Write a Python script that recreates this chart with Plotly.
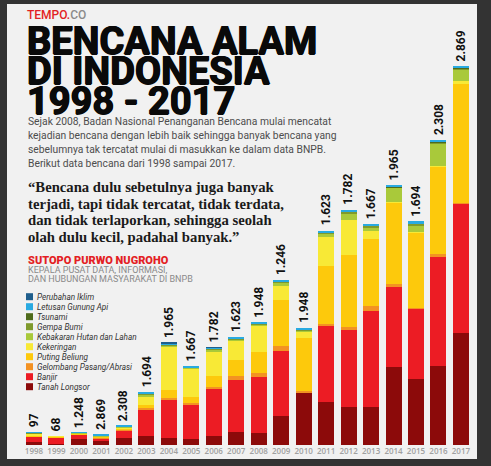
import plotly.graph_objects as go

years = [str(y) for y in range(1998, 2018)]
value_labels = ["97", "68", "1.248", "2.869", "2.308", "1.694", "1.965", "1.667", "1.782", "1.623",
                "1.948", "1.246", "1.948", "1.623", "1.782", "1.667", "1.965", "1.694", "2.308", "2.869"]

tanah_longsor = [20, 8, 45, 28, 50, 71, 50, 45, 71, 101, 88, 222, 399, 323, 285, 290, 593, 497, 598, 846]
banjir = [43, 45, 38, 21, 61, 194, 298, 265, 358, 391, 429, 489, 0, 578, 585, 724, 603, 535, 826, 979]
gelombang = [4, 2, 0, 4, 5, 13, 5, 5, 8, 30, 30, 38, 10, 15, 25, 38, 20, 8, 25, 10]
puting_beliung = [8, 8, 3, 8, 10, 25, 63, 45, 86, 121, 159, 348, 404, 439, 543, 506, 618, 568, 656, 899]
kekeringan = [10, 5, 3, 6, 10, 63, 328, 220, 184, 151, 197, 106, 45, 222, 265, 63, 5, 8, 5, 18]
kebakaran = [5, 0, 2, 4, 3, 18, 10, 5, 13, 8, 10, 30, 8, 23, 53, 25, 108, 48, 172, 91]
gempa = [4, 0, 0, 3, 2, 8, 8, 0, 8, 5, 5, 8, 8, 10, 13, 13, 5, 15, 8, 8]
tsunami = [0, 0, 0, 0, 0, 0, 0, 0, 0, 0, 0, 0, 0, 0, 0, 0, 3, 0, 5, 5]
letusan = [3, 0, 2, 2, 3, 7, 8, 8, 8, 8, 8, 5, 15, 13, 13, 8, 10, 15, 13, 13]
perubahan_iklim = [0, 0, 0, 0, 0, 0, 4, 0, 4, 0, 0, 0, 0, 0, 0, 0, 0, 0, 0, 0]

series = [
    ("Tanah Longsor", tanah_longsor, "#8c0a0a"),
    ("Banjir", banjir, "#ec1c24"),
    ("Gelombang Pasang/Abrasi", gelombang, "#f39222"),
    ("Puting Beliung", puting_beliung, "#fdc90c"),
    ("Kekeringan", kekeringan, "#f8e936"),
    ("Kebakaran Hutan dan Lahan", kebakaran, "#a9c93a"),
    ("Gempa Bumi", gempa, "#7f9a2c"),
    ("Tsunami", tsunami, "#4e6b1b"),
    ("Letusan Gunung Api", letusan, "#29aae1"),
    ("Perubahan Iklim", perubahan_iklim, "#1f5e8c"),
]

W, H = 491, 466
scale = 2869 / 379.0
xs = list(range(len(years)))

fig = go.Figure()
for name, vals, col in series:
    fig.add_trace(go.Bar(x=xs, y=vals, name=name, marker=dict(color=col, line=dict(width=0)),
                         width=0.71, showlegend=False, hoverinfo="skip"))

totals = [sum(s[1][i] for s in series) for i in xs]

ann = []
for i in xs:
    ann.append(dict(x=i, y=totals[i], xref="x", yref="y", text=value_labels[i], showarrow=False,
                    textangle=-90, xanchor="center", yanchor="bottom", yshift=3,
                    font=dict(family="Roboto", size=12, color="#111111", weight=700)))

def px_x(p):
    return p / W

def px_y(p):
    return 1 - p / H

def text(x, y, s, size, color, family="Open Sans", weight=400, style="normal", shadow="none"):
    ann.append(dict(x=px_x(x), y=px_y(y), xref="paper", yref="paper", text=s, showarrow=False,
                    xanchor="left", yanchor="middle",
                    font=dict(family=family, size=size, color=color, weight=weight, style=style,
                              shadow=shadow)))

text(25, 15.5, "<span style='color:#e31e24'>TEMPO.</span><span style='color:#8a8a8a'>CO</span>",
     12, "#e31e24", family="Roboto", weight=500)
heavy = "0.7px 0 0 #0a0a0a, -0.7px 0 0 #0a0a0a, 0 0.5px 0 #0a0a0a"
for k, line in enumerate(["BENCANA ALAM", "DI INDONESIA", "1998 - 2017"]):
    text(25, 41 + 30 * k, line, 38, "#0a0a0a", family="Roboto", weight=700, shadow=heavy)

para = ["Sejak 2008, Badan Nasional Penanganan Bencana mulai mencatat",
        "kejadian bencana dengan lebih baik sehingga banyak bencana yang",
        "sebelumnya tak tercatat mulai di masukkan ke dalam data BNPB.",
        "Berikut data bencana dari 1998 sampai 2017."]
for k, line in enumerate(para):
    text(26, 121 + 14.2 * k, line, 10.3, "#4d4d4d", family="Roboto")

quote = ["\u201cBencana dulu sebetulnya juga banyak",
         "terjadi, tapi tidak tercatat, tidak terdata,",
         "dan tidak terlaporkan, sehingga seolah",
         "olah dulu kecil, padahal banyak.\u201d"]
for k, line in enumerate(quote):
    text(26, 187 + 16.7 * k, line, 14.7, "#1a1a1a", family="Liberation Serif", weight=700)

text(26, 260, "SUTOPO PURWO NUGROHO", 11, "#e31e24", family="Roboto", weight=900)
text(26, 269.5, "KEPALA PUSAT DATA, INFORMASI,", 9, "#8a8a8a", family="Roboto")
text(26, 279, "DAN HUBUNGAN MASYARAKAT DI BNPB", 9, "#8a8a8a", family="Roboto")

shapes = [dict(type="rect", xref="paper", yref="paper", x0=px_x(7), x1=px_x(477), y0=px_y(459), y1=px_y(4),
               fillcolor="#f1f1f1", line=dict(width=0), layer="below")]

legend_order = list(reversed(series))
for k, (name, vals, col) in enumerate(legend_order):
    cy = 296.7 + 10 * k
    shapes.append(dict(type="rect", xref="paper", yref="paper", x0=px_x(26), x1=px_x(33),
                       y0=px_y(cy + 3.5), y1=px_y(cy - 3.5), fillcolor=col, line=dict(width=0)))
    text(34.5, cy, name, 8.2, "#333333", family="Roboto", style="italic")

fig.update_layout(
    width=W, height=H,
    margin=dict(l=0, r=0, t=0, b=0),
    paper_bgcolor="#333333", plot_bgcolor="rgba(0,0,0,0)",
    barmode="stack", bargap=0,
    annotations=ann, shapes=shapes,
    xaxis=dict(range=[-34 / 22.47, -34 / 22.47 + W / 22.47], tickvals=xs, ticktext=years,
               showgrid=False, zeroline=False, showline=False, ticks="", automargin=False,
               tickfont=dict(family="Open Sans", size=8, color="#a0a0a0", weight=600)),
    yaxis=dict(range=[0, 445 * scale], domain=[(H - 445) / H, 1], visible=False,
               showgrid=False, zeroline=False, automargin=False),
    showlegend=False,
)

fig.write_html("out.html", config={"displayModeBar": False},
               post_script="document.body.style.margin='0px';document.body.style.background='#333333';")
